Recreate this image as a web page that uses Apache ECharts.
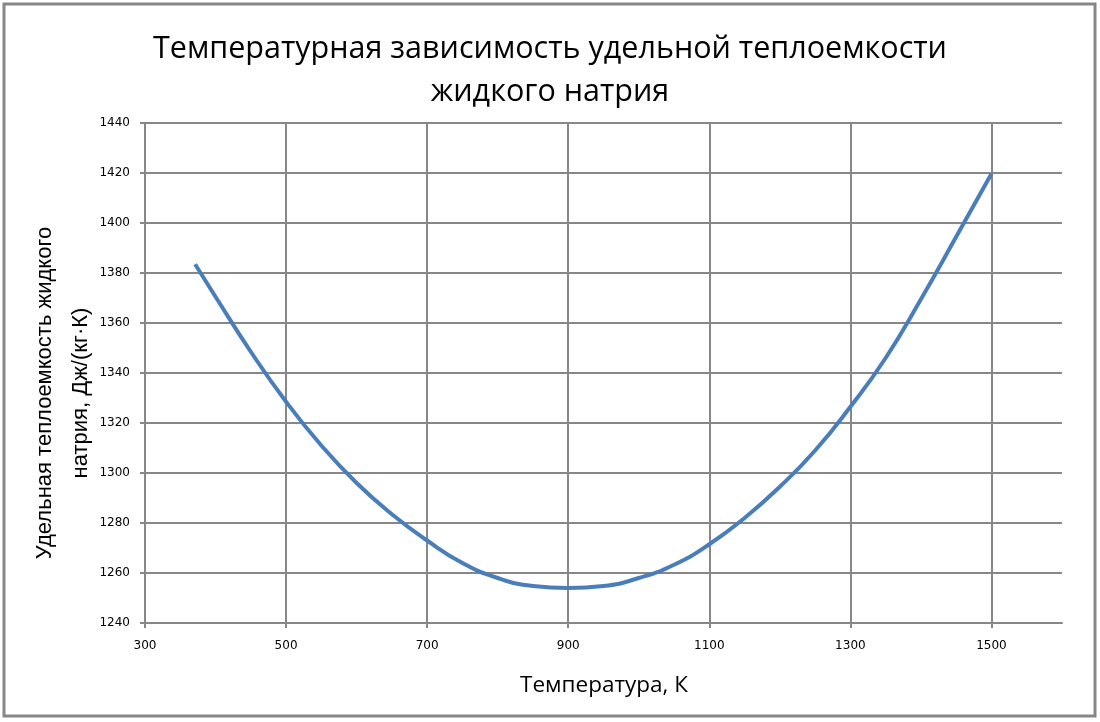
<!DOCTYPE html>
<html>
<head>
<meta charset="utf-8">
<script src="https://cdn.jsdelivr.net/npm/echarts@6/dist/echarts.min.js"></script>
<style>
html,body{margin:0;padding:0;background:#fff;}
#chart{width:1100px;height:722px;}
</style>
</head>
<body>
<div id="chart"></div>
<script>
// Temperature, K
const temperatures = [371, 400, 450, 500, 550, 600, 650, 700, 750, 800, 850, 900, 950, 1000, 1050, 1100, 1150, 1200, 1250, 1300, 1350, 1400, 1450, 1500];
// Specific heat capacity, J/(kg·K)
const heatCapacity = [1383.5, 1370.5, 1348.5, 1328.5, 1311, 1296, 1283.5, 1273, 1264, 1258, 1254.8, 1254, 1254.8, 1258, 1263.3, 1271.5, 1282, 1294.5, 1309, 1326.5, 1346, 1369.5, 1394.5, 1419.7];

const titleLines = ['Температурная зависимость удельной теплоемкости', 'жидкого натрия'];
const xAxisTitle = 'Температура, К';
const yAxisTitleLines = ['Удельная теплоемкость жидкого', 'натрия, Дж/(кг·К)'];

const points = temperatures.map((t, i) => [t, heatCapacity[i]]);
const gridColor = '#878787';

const chart = echarts.init(document.getElementById('chart'), null, {renderer: 'canvas'});
chart.setOption({
  backgroundColor: '#ffffff',
  animation: false,
  title: {
    text: titleLines.join('\n'),
    left: 'center',
    top: 23,
    textStyle: {
      fontFamily: 'Open Sans',
      fontWeight: 'normal',
      fontSize: 30.5,
      lineHeight: 43,
      color: '#000000'
    }
  },
  grid: {left: 145, right: 38, top: 123, bottom: 99, containLabel: false},
  xAxis: {
    type: 'value',
    min: 300, max: 1600, interval: 200,
    axisLine: {show: true, lineStyle: {color: gridColor, width: 2}},
    axisTick: {show: true, length: 5, lineStyle: {color: gridColor, width: 2}},
    axisLabel: {margin: 17, fontFamily: 'DejaVu Sans', fontSize: 12, color: '#000000',
      showMaxLabel: false, formatter: v => String(v)},
    splitLine: {show: true, showMaxLine: false, lineStyle: {color: gridColor, width: 2}}
  },
  yAxis: {
    type: 'value',
    min: 1240, max: 1440, interval: 20,
    axisLine: {show: true, lineStyle: {color: gridColor, width: 2}},
    axisTick: {show: true, length: 5, lineStyle: {color: gridColor, width: 2}},
    axisLabel: {margin: 15, fontFamily: 'DejaVu Sans', fontSize: 12, color: '#000000',
      formatter: v => String(v)},
    splitLine: {show: true, lineStyle: {color: gridColor, width: 2}}
  },
  graphic: [
    {
      type: 'rect', silent: true, z: -1,
      shape: {x: 4, y: 4, width: 1091, height: 712},
      style: {fill: 'none', stroke: gridColor, lineWidth: 3}
    },
    {
      type: 'text', silent: true,
      x: 604, y: 686,
      style: {text: xAxisTitle, fontFamily: 'Open Sans', fontSize: 22.5, fill: '#000000',
        textAlign: 'center', textVerticalAlign: 'middle'}
    },
    {
      type: 'text', silent: true,
      x: 63, y: 393, rotation: Math.PI / 2,
      style: {text: yAxisTitleLines.join('\n'), fontFamily: 'Liberation Sans', fontSize: 22,
        lineHeight: 36, fill: '#000000', textAlign: 'center', textVerticalAlign: 'middle'}
    }
  ],
  series: [{
    type: 'line',
    data: points,
    smooth: true,
    showSymbol: false,
    lineStyle: {color: '#4a7ebb', width: 4},
    itemStyle: {color: '#4a7ebb'}
  }]
});
</script>
</body>
</html>
